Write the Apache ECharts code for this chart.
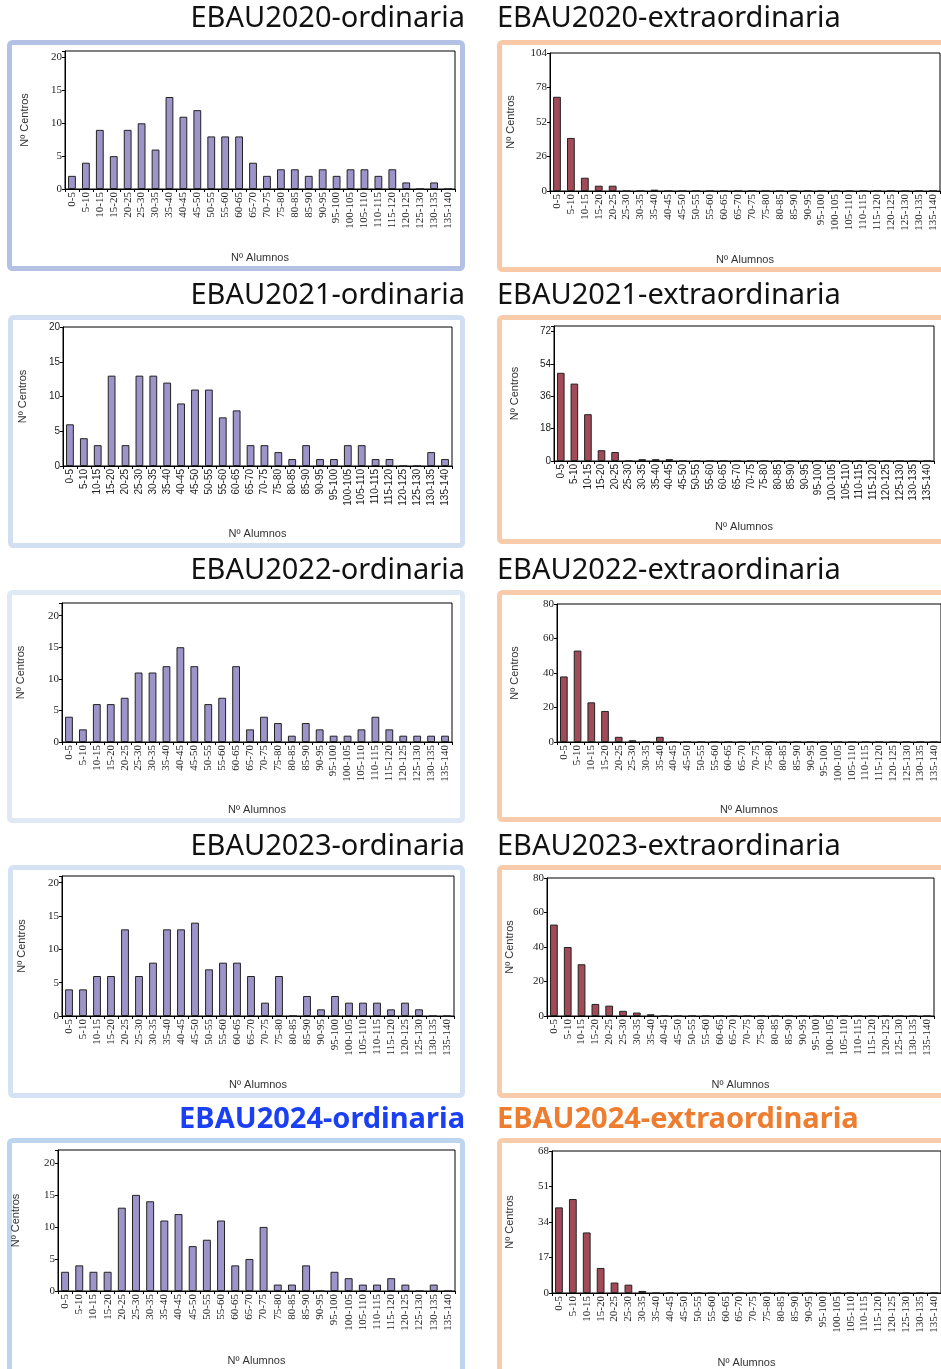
<!DOCTYPE html>
<html><head><meta charset="utf-8">
<script src="https://cdn.jsdelivr.net/npm/echarts@6/dist/echarts.min.js"></script>
<style>html,body{margin:0;padding:0;background:#fff;}#c{width:941px;height:1369px;}</style>
</head><body><div id="c"></div>
<script>
// ---- data ----
const categories = ['0-5','5-10','10-15','15-20','20-25','25-30','30-35','35-40','40-45','45-50','50-55','55-60','60-65','65-70','70-75','75-80','80-85','85-90','90-95','95-100','100-105','105-110','110-115','115-120','120-125','125-130','130-135','135-140'];
const ord2020 = [2,4,9,5,9,10,6,14,11,12,8,8,8,4,2,3,3,2,3,2,3,3,2,3,1,0,1,0];
const ext2020 = [71,40,10,4,4,0,0,1,0,0,0,0,0,0,0,0,0,0,0,0,0,0,0,0,0,0,0,0];
const ord2021 = [6,4,3,13,3,13,13,12,9,11,11,7,8,3,3,2,1,3,1,1,3,3,1,1,0,0,2,1];
const ext2021 = [49,43,26,6,5,0,1,1,1,0,0,0,0,0,0,0,0,0,0,0,0,0,0,0,0,0,0,0];
const ord2022 = [4,2,6,6,7,11,11,12,15,12,6,7,12,2,4,3,1,3,2,1,1,2,4,2,1,1,1,1];
const ext2022 = [38,53,23,18,3,1,0,3,0,0,0,0,0,0,0,0,0,0,0,0,0,0,0,0,0,0,0,0];
const ord2023 = [4,4,6,6,13,6,8,13,13,14,7,8,8,6,2,6,0,3,1,3,2,2,2,1,2,1,0,0];
const ext2023 = [53,40,30,7,6,3,2,1,0,0,0,0,0,0,0,0,0,0,0,0,0,0,0,0,0,0,0,0];
const ord2024 = [3,4,3,3,13,15,14,11,12,7,8,11,4,5,10,1,1,4,0,3,2,1,1,2,1,0,1,0];
const ext2024 = [41,45,29,12,5,4,1,0,0,0,0,0,0,0,0,0,0,0,0,0,0,0,0,0,0,0,0,0];
const titleTexts = ['EBAU2020-ordinaria','EBAU2020-extraordinaria','EBAU2021-ordinaria','EBAU2021-extraordinaria','EBAU2022-ordinaria','EBAU2022-extraordinaria','EBAU2023-ordinaria','EBAU2023-extraordinaria','EBAU2024-ordinaria','EBAU2024-extraordinaria'];
const yName = 'Nº Centros';
const xName = 'Nº Alumnos';

// ---- layout ----
const W = 941;
const LAV = '#9d95ca', MAR = '#a14b58';
const panels = [
  {data:ord2020, color:LAV, g:[65,51,390,138], max:21, iv:5, yx:24, xy:258, font:'Liberation Serif', fs:11},
  {data:ext2020, color:MAR, g:[550,53,390,138], max:104, iv:26, yx:510, xy:260, font:'Liberation Serif', fs:11},
  {data:ord2021, color:LAV, g:[63,327,389,139], max:20, iv:5, yx:22, xy:534, font:'Liberation Sans', fs:10},
  {data:ext2021, color:MAR, g:[554,326,380,135], max:75, iv:18, yx:514, xy:527, font:'Liberation Sans', fs:10},
  {data:ord2022, color:LAV, g:[62,603,390,139], max:22, iv:5, yx:20, xy:810, font:'Liberation Serif', fs:11},
  {data:ext2022, color:MAR, g:[557,604,384,138], max:80, iv:20, yx:514, xy:810, font:'Liberation Serif', fs:11},
  {data:ord2023, color:LAV, g:[62,876,392,140], max:21, iv:5, yx:21, xy:1085, font:'Liberation Serif', fs:11},
  {data:ext2023, color:MAR, g:[547,878,387,138], max:80, iv:20, yx:509, xy:1085, font:'Liberation Serif', fs:11},
  {data:ord2024, color:LAV, g:[58,1150,397,141], max:22, iv:5, yx:15, xy:1361, font:'Liberation Serif', fs:11},
  {data:ext2024, color:MAR, g:[552,1151,392,142], max:68, iv:17, yx:509, xy:1363, font:'Liberation Serif', fs:11}
];
const boxes = [
  [7,40,458,231,'#b3c1e5'],[497,40,470,232,'#f8c9a6'],
  [8,315,457,233,'#d2def1'],[497,315,470,229,'#f8cbaa'],
  [7,590,458,233,'#dfe8f5'],[497,590,470,232,'#f8cbaa'],
  [8,865,457,233,'#d5e2f3'],[497,865,470,233,'#f8cbaa'],
  [7,1138,458,240,'#bdd5ee'],[497,1138,470,240,'#f8cbaa']
];
const titleY = [18,295,570,846,1119];

const grids=[], xAxes=[], yAxes=[], series=[], titles=[];
panels.forEach((p,i)=>{
  const [l,t,w,h]=p.g;
  grids.push({left:l, top:t, width:w, height:h, show:true, borderColor:'#000', borderWidth:1, backgroundColor:'#fff', containLabel:false});
  xAxes.push({type:'category', gridIndex:i, data:categories,
    name:xName, nameLocation:'middle', nameGap:(p.xy - (t+h) - 6),
    nameTextStyle:{fontFamily:'Liberation Sans', fontSize:11, color:'#333'},
    axisLine:{lineStyle:{color:'#000', width:1}},
    axisTick:{show:true, length:3, lineStyle:{color:'#000'}},
    axisLabel:{rotate:90, interval:0, fontFamily:p.font, fontSize:p.fs, color:'#222', margin:3}});
  yAxes.push({type:'value', gridIndex:i, min:0, max:p.max, interval:p.iv,
    name:yName, nameLocation:'middle', nameRotate:90, nameGap:(l - p.yx - 6),
    nameTextStyle:{fontFamily:'Liberation Sans', fontSize:11, color:'#333'},
    axisLine:{show:true, lineStyle:{color:'#000', width:1}},
    axisTick:{show:true, length:3, lineStyle:{color:'#000'}},
    splitLine:{show:false},
    axisLabel:{fontFamily:p.font, fontSize:p.fs, color:'#222', margin:3,
      formatter:(v)=> (Math.abs(v % p.iv) < 1e-9 ? String(v) : '')}});
  series.push({type:'bar', xAxisIndex:i, yAxisIndex:i, data:p.data, barWidth:'56%',
    itemStyle:{color:p.color, borderColor:'#222', borderWidth:1}});
  const row = Math.floor(i/2), isLeft = (i%2===0), last = row===4;
  const fsz = 29;
  const t0 = {text:titleTexts[i], top:titleY[row]-14, padding:0,
    textStyle:{fontFamily:'Noto Sans', fontSize:fsz, fontWeight: last?'bold':'normal',
      color: last ? (isLeft?'#1b3ff2':'#ef7d2f') : '#111'}};
  if (isLeft) t0.right = W-465; else t0.left = 497;
  titles.push(t0);
});

const graphics = boxes.map(b=>({type:'rect', z:-10, silent:true,
  shape:{x:b[0]+2.5, y:b[1]+2.5, width:b[2]-5, height:b[3]-5, r:3},
  style:{fill:'#fff', stroke:b[4], lineWidth:5}}));

const chart = echarts.init(document.getElementById('c'), null, {renderer:'canvas'});
chart.setOption({animation:false, backgroundColor:'#fff', title:titles, grid:grids, xAxis:xAxes, yAxis:yAxes, series:series, graphic:graphics});
</script></body></html>
